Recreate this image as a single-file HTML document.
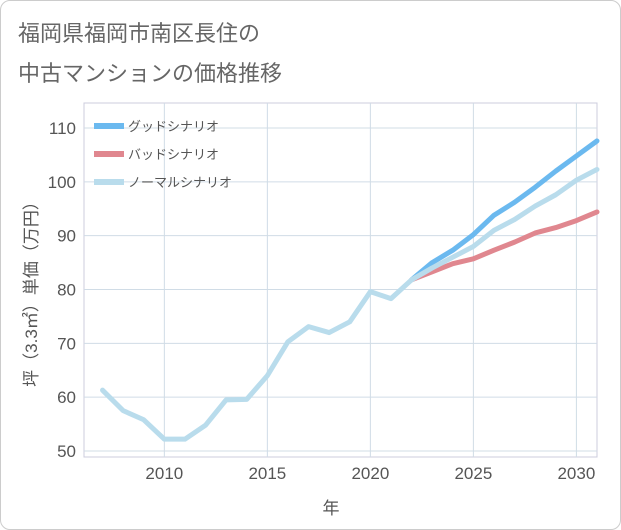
<!DOCTYPE html>
<html><head><meta charset="utf-8"><style>
body{margin:0;background:#fff;font-family:"Liberation Sans","Noto Sans CJK JP",sans-serif}
.card{position:absolute;left:0;top:0;width:619px;height:528px;border:1px solid #ccc;border-radius:10px;background:#fff}
.title{position:absolute;left:18px;top:14px;font-size:22px;line-height:40px;color:#666}
</style></head><body>
<div class="card"></div>
<div class="title">福岡県福岡市南区長住の<br>中古マンションの価格推移</div>
<svg id="c" width="621" height="530" style="position:absolute;left:0;top:0"></svg>
<script>
const years=[2007,2008,2009,2010,2011,2012,2013,2014,2015,2016,2017,2018,2019,2020,2021,2022,2023,2024,2025,2026,2027,2028,2029,2030,2031];
const normal=[61.3,57.5,55.8,52.2,52.2,54.8,59.5,59.6,64,70.3,73.1,72,74,79.6,78.3,81.8,84,86,88,91,93,95.5,97.6,100.3,102.3];
const fYears=[2022,2023,2024,2025,2026,2027,2028,2029,2030,2031];
const good=[81.8,85,87.3,90.2,93.8,96.2,99,102,104.8,107.6];
const bad=[81.8,83.3,84.8,85.7,87.3,88.8,90.5,91.5,92.8,94.4];
const xTicks=[2010,2015,2020,2025,2030];
const yTicks=[50,60,70,80,90,100,110];
const svg=document.getElementById('c');const NS='http://www.w3.org/2000/svg';
const L=84,R=597,T=103,B=457;
const x=v=>L+(v-2006.1)/(2031-2006.1)*(R-L);
const y=v=>451-(v-50)*(451-128)/60;
function mk(t,a,p){const e=document.createElementNS(NS,t);for(const k in a)e.setAttribute(k,a[k]);(p||svg).appendChild(e);return e;}
mk('rect',{x:L,y:T,width:R-L,height:B-T,fill:'none',stroke:'#ccd','stroke-width':1});
yTicks.forEach(v=>{const g=mk('line',{x1:L,x2:R,y1:y(v),y2:y(v),stroke:'#d0dce6'});

const t=mk('text',{x:L-8,y:y(v)+6,'text-anchor':'end','font-size':17,fill:'#555'});t.textContent=v;
});
xTicks.forEach(v=>{const g=mk('line',{x1:x(v),x2:x(v),y1:T,y2:B,stroke:'#d0dce6'});

const t=mk('text',{x:x(v),y:B+22,'text-anchor':'middle','font-size':17,fill:'#555'});t.textContent=v;
});
function line(xs,ys,c,n){const p=mk('polyline',{points:xs.map((v,i)=>x(v)+','+y(ys[i])).join(' '),fill:'none',stroke:c,'stroke-width':5,'stroke-linejoin':'round','stroke-linecap':'round'});
}
line(fYears,bad,'#e0878f','bad-scenario-line');
line(fYears,good,'#6bb9ef','good-scenario-line');
line(years,normal,'#b9dcec','normal-scenario-line');
const leg=[['グッドシナリオ','#6bb9ef'],['バッドシナリオ','#e0878f'],['ノーマルシナリオ','#b9dcec']];
leg.forEach((l,i)=>{const yy=126+i*28;const r=mk('rect',{x:94,y:yy-3,width:30,height:6,fill:l[1]});

const t=mk('text',{x:128,y:yy+5,'font-size':13,fill:'#555'});t.textContent=l[0];
});
const yl=mk('text',{x:0,y:0,transform:'translate(37,290) rotate(-90)','text-anchor':'middle','font-size':17,fill:'#555'});yl.textContent='坪（3.3㎡）単価（万円）';

const xl=mk('text',{x:331,y:514,'text-anchor':'middle','font-size':17,fill:'#555'});xl.textContent='年';

</script></body></html>
